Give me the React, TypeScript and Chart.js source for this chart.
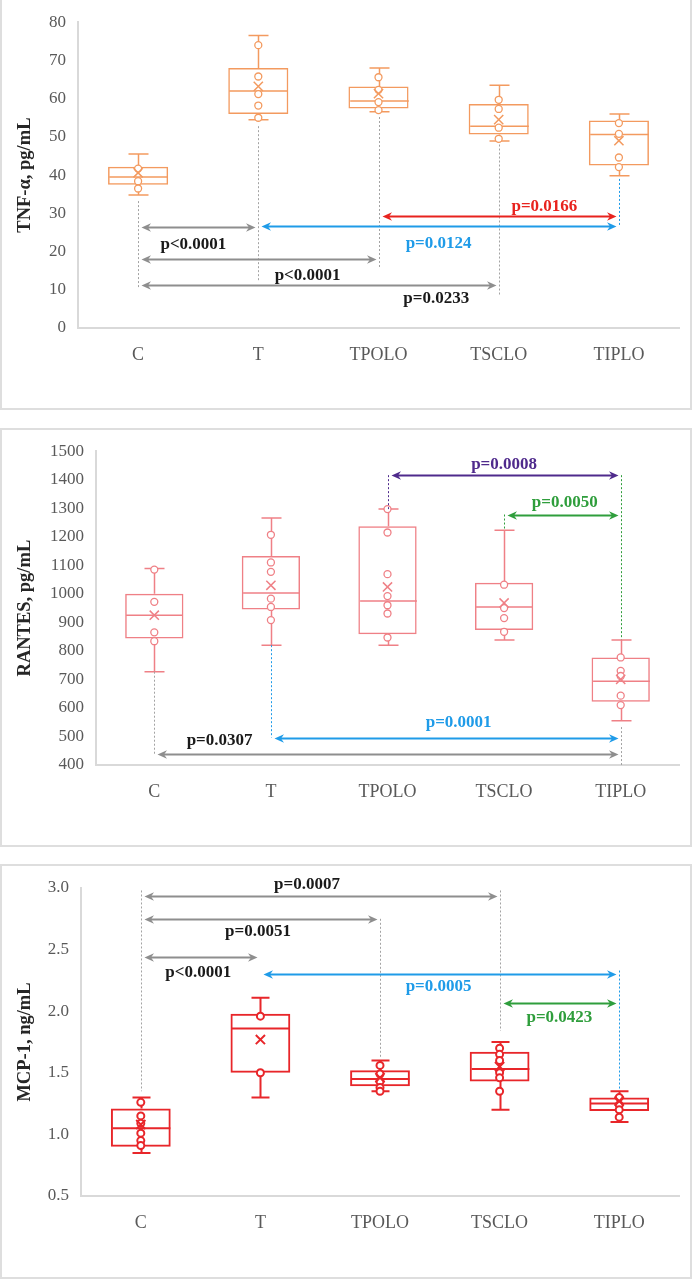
import React, { useEffect, useRef } from 'react';
import { Chart, registerables } from 'chart.js';

Chart.register(...registerables);

const categories = ['C', 'T', 'TPOLO', 'TSCLO', 'TIPLO'];

// ---- TNF-α, pg/mL ----
const tnfMin = [34.8, 54.5, 56.6, 48.9, 39.8];
const tnfQ1 = [37.5, 56.0, 57.4, 50.6, 42.5];
const tnfMedian = [39.5, 62.0, 59.4, 52.8, 50.6];
const tnfQ3 = [42.2, 68.0, 63.2, 58.6, 54.3];
const tnfMax = [45.5, 76.5, 68.0, 63.5, 56.0];
const tnfMean = [40.6, 63.2, 61.3, 54.5, 49.0];
const tnfPoints = [
  [41.7, 38.4, 36.5],
  [74.0, 65.8, 61.2, 58.2, 55.0],
  [65.6, 62.3, 59.1, 57.0],
  [59.7, 57.3, 52.4, 49.5],
  [53.6, 50.8, 44.6, 42.1],
];
const tnfTicks = { min: 0, max: 80, step: 10, decimals: 0 };

// ---- RANTES, pg/mL ----
const rantesMin = [727, 820, 820, 838, 555];
const rantesQ1 = [843, 945, 858, 873, 622];
const rantesMedian = [925, 1003, 975, 954, 694];
const rantesQ3 = [1000, 1133, 1237, 1039, 777];
const rantesMax = [1089, 1266, 1297, 1223, 838];
const rantesMean = [925, 1030, 1024, 968, 700];
const rantesPoints = [
  [1085, 972, 865, 834],
  [1207, 1110, 1077, 983, 954, 908],
  [1297, 1215, 1069, 992, 960, 931, 847],
  [1032, 950, 915, 867],
  [777, 730, 712, 643, 610],
];
const rantesTicks = { min: 400, max: 1500, step: 100, decimals: 0 };

// ---- MCP-1, ng/mL ----
const mcpMin = [0.85, 1.30, 1.35, 1.20, 1.10];
const mcpQ1 = [0.90, 1.50, 1.39, 1.43, 1.19];
const mcpMedian = [1.05, 1.86, 1.45, 1.53, 1.25];
const mcpQ3 = [1.21, 1.98, 1.52, 1.67, 1.30];
const mcpMax = [1.30, 2.11, 1.60, 1.75, 1.35];
const mcpMean = [1.08, 1.77, 1.46, 1.55, 1.27];
const mcpPoints = [
  [1.26, 1.15, 1.09, 1.01, 0.95, 0.91],
  [1.96, 1.50],
  [1.56, 1.49, 1.43, 1.38, 1.35],
  [1.70, 1.65, 1.60, 1.50, 1.46, 1.35],
  [1.30, 1.24, 1.20, 1.14],
];
const mcpTicks = { min: 0.5, max: 3.0, step: 0.5, decimals: 1 };

// ---- colours ----
const GRAY = '#8e8e8e';
const GUIDE_GRAY = '#a3a3a3';
const BLACK = '#1a1a1a';
const BLUE = '#1f9be8';
const RED = '#e8231e';
const PURPLE = '#4f2a8c';
const GREEN = '#2f9e3c';

type Guide = { cat: string; from: number; to: number; color: string };
type Cmp = {
  from: string; to: string; y: number; text: string;
  color: string; textColor: string; tx: number; ty: number;
};

// ---- significance annotations ----
const tnfGuides: Guide[] = [
  { cat: 'C', from: 33.2, to: 10.5, color: GUIDE_GRAY },
  { cat: 'T', from: 52.8, to: 12.5, color: GUIDE_GRAY },
  { cat: 'TPOLO', from: 55.2, to: 15.5, color: GUIDE_GRAY },
  { cat: 'TSCLO', from: 48.0, to: 8.4, color: GUIDE_GRAY },
  { cat: 'TIPLO', from: 39.0, to: 26.4, color: BLUE },
];
const tnfComparisons: Cmp[] = [
  { from: 'C', to: 'T', y: 26.4, text: 'p<0.0001', color: GRAY, textColor: BLACK, tx: 0.46, ty: 21.7 },
  { from: 'C', to: 'TPOLO', y: 18.0, text: 'p<0.0001', color: GRAY, textColor: BLACK, tx: 1.41, ty: 13.8 },
  { from: 'C', to: 'TSCLO', y: 11.2, text: 'p=0.0233', color: GRAY, textColor: BLACK, tx: 2.48, ty: 7.7 },
  { from: 'T', to: 'TIPLO', y: 26.6, text: 'p=0.0124', color: BLUE, textColor: BLUE, tx: 2.5, ty: 22.2 },
  { from: 'TPOLO', to: 'TIPLO', y: 29.3, text: 'p=0.0166', color: RED, textColor: RED, tx: 3.38, ty: 31.7 },
];

const rantesGuides: Guide[] = [
  { cat: 'TPOLO', from: 1416, to: 1297, color: PURPLE },
  { cat: 'TSCLO', from: 1278, to: 1223, color: GREEN },
  { cat: 'TIPLO', from: 1416, to: 840, color: GREEN },
  { cat: 'T', from: 820, to: 496, color: BLUE },
  { cat: 'C', from: 727, to: 438, color: GUIDE_GRAY },
  { cat: 'TIPLO', from: 533, to: 400, color: GUIDE_GRAY },
];
const rantesComparisons: Cmp[] = [
  { from: 'TPOLO', to: 'TIPLO', y: 1416, text: 'p=0.0008', color: PURPLE, textColor: PURPLE, tx: 3.0, ty: 1454 },
  { from: 'TSCLO', to: 'TIPLO', y: 1278, text: 'p=0.0050', color: GREEN, textColor: GREEN, tx: 3.52, ty: 1321 },
  { from: 'T', to: 'TIPLO', y: 496, text: 'p=0.0001', color: BLUE, textColor: BLUE, tx: 2.61, ty: 548 },
  { from: 'C', to: 'TIPLO', y: 438, text: 'p=0.0307', color: GRAY, textColor: BLACK, tx: 0.56, ty: 487 },
];

const mcpGuides: Guide[] = [
  { cat: 'C', from: 2.98, to: 1.35, color: GUIDE_GRAY },
  { cat: 'TPOLO', from: 2.75, to: 1.63, color: GUIDE_GRAY },
  { cat: 'TSCLO', from: 2.98, to: 1.84, color: GUIDE_GRAY },
  { cat: 'TIPLO', from: 2.33, to: 1.37, color: BLUE },
];
const mcpComparisons: Cmp[] = [
  { from: 'C', to: 'TSCLO', y: 2.935, text: 'p=0.0007', color: GRAY, textColor: BLACK, tx: 1.39, ty: 3.03 },
  { from: 'C', to: 'TPOLO', y: 2.75, text: 'p=0.0051', color: GRAY, textColor: BLACK, tx: 0.98, ty: 2.65 },
  { from: 'C', to: 'T', y: 2.44, text: 'p<0.0001', color: GRAY, textColor: BLACK, tx: 0.48, ty: 2.31 },
  { from: 'T', to: 'TIPLO', y: 2.30, text: 'p=0.0005', color: BLUE, textColor: BLUE, tx: 2.49, ty: 2.20 },
  { from: 'TSCLO', to: 'TIPLO', y: 2.07, text: 'p=0.0423', color: GREEN, textColor: GREEN, tx: 3.5, ty: 1.95 },
];

const SERIF = '"Liberation Serif", "Times New Roman", serif';

type PanelProps = {
  top: number; height: number; plotTop: number; plotLeft: number; plotBottom: number;
  title: string; color: string; lineWidth: number; cap: number; pointWidth: number;
  min: number[]; q1: number[]; median: number[]; q3: number[]; max: number[];
  mean: number[]; points: number[][];
  ticks: { min: number; max: number; step: number; decimals: number };
  guides: Guide[]; comparisons: Cmp[];
};

function arrowHead(ctx: CanvasRenderingContext2D, x: number, y: number, dir: number, color: string) {
  const L = 9.5, W = 4.2, N = 6.5;
  ctx.beginPath();
  ctx.moveTo(x, y);
  ctx.lineTo(x - dir * L, y - W);
  ctx.lineTo(x - dir * N, y);
  ctx.lineTo(x - dir * L, y + W);
  ctx.closePath();
  ctx.fillStyle = color;
  ctx.fill();
}

function BoxPanel(p: PanelProps) {
  const ref = useRef<HTMLCanvasElement | null>(null);
  useEffect(() => {
    const canvas = ref.current;
    if (!canvas) return;
    const W = 694;
    const xHeight = p.top + p.height - p.plotBottom;

    const boxPlugin = {
      id: 'boxWhiskers',
      afterDatasetDraw(chart: any, args: any) {
        if (args.index !== 0) return;
        const ctx = chart.ctx as CanvasRenderingContext2D;
        const ys = chart.scales.y;
        const meta = chart.getDatasetMeta(0);
        ctx.save();
        ctx.strokeStyle = p.color;
        ctx.lineWidth = p.lineWidth;
        meta.data.forEach((bar: any, i: number) => {
          const x = Math.round(bar.x) + 0.5;
          const hw = bar.width / 2;
          const yMed = ys.getPixelForValue(p.median[i]);
          const yQ1 = ys.getPixelForValue(p.q1[i]);
          const yQ3 = ys.getPixelForValue(p.q3[i]);
          const yMax = ys.getPixelForValue(p.max[i]);
          const yMin = ys.getPixelForValue(p.min[i]);
          ctx.beginPath();
          ctx.moveTo(x - hw + p.lineWidth / 2, yMed);
          ctx.lineTo(x + hw - p.lineWidth / 2, yMed);
          ctx.moveTo(x, yQ3);
          ctx.lineTo(x, yMax);
          ctx.moveTo(x - p.cap, yMax);
          ctx.lineTo(x + p.cap, yMax);
          ctx.moveTo(x, yQ1);
          ctx.lineTo(x, yMin);
          ctx.moveTo(x - p.cap, yMin);
          ctx.lineTo(x + p.cap, yMin);
          ctx.stroke();
        });
        ctx.restore();
      },
    };

    const annotPlugin = {
      id: 'significance',
      afterDraw(chart: any) {
        const ctx = chart.ctx as CanvasRenderingContext2D;
        const xs = chart.scales.x;
        const ys = chart.scales.y;
        const cx = (c: string) => Math.round(xs.getPixelForValue(categories.indexOf(c))) + 0.5;
        ctx.save();
        ctx.lineWidth = 1;
        ctx.setLineDash([2, 2]);
        p.guides.forEach((g) => {
          const x = cx(g.cat);
          ctx.strokeStyle = g.color;
          ctx.beginPath();
          ctx.moveTo(x, ys.getPixelForValue(g.from));
          ctx.lineTo(x, ys.getPixelForValue(g.to));
          ctx.stroke();
        });
        ctx.setLineDash([]);
        p.comparisons.forEach((c) => {
          const x1 = cx(c.from) + 3;
          const x2 = cx(c.to) - 3;
          const y = Math.round(ys.getPixelForValue(c.y)) + 0.5;
          ctx.strokeStyle = c.color;
          ctx.lineWidth = 1.8;
          ctx.beginPath();
          ctx.moveTo(x1 + 6, y);
          ctx.lineTo(x2 - 6, y);
          ctx.stroke();
          arrowHead(ctx, x1, y, -1, c.color);
          arrowHead(ctx, x2, y, 1, c.color);
          ctx.fillStyle = c.textColor;
          ctx.font = `bold 17px ${SERIF}`;
          ctx.textAlign = 'center';
          ctx.textBaseline = 'middle';
          ctx.fillText(c.text, xs.getPixelForValue(c.tx), ys.getPixelForValue(c.ty));
        });
        ctx.restore();
      },
    };

    const chart = new Chart(canvas, {
      type: 'bar',
      data: {
        labels: categories,
        datasets: [
          {
            type: 'bar',
            data: categories.map((_, i) => [p.q1[i], p.q3[i]]) as any,
            backgroundColor: 'rgba(255,255,255,0)',
            borderColor: p.color,
            borderWidth: p.lineWidth,
            borderSkipped: false,
            barPercentage: 0.5,
            categoryPercentage: 1,
            order: 3,
          } as any,
          {
            type: 'line',
            data: categories.flatMap((c, i) => p.points[i].map((v) => ({ x: c, y: v }))) as any,
            showLine: false,
            pointStyle: 'circle',
            pointRadius: 3.5,
            pointBorderWidth: p.pointWidth,
            pointBorderColor: p.color,
            pointBackgroundColor: '#ffffff',
            order: 2,
          } as any,
          {
            type: 'line',
            data: categories.map((c, i) => ({ x: c, y: p.mean[i] })) as any,
            showLine: false,
            pointStyle: 'crossRot',
            pointRadius: 6.5,
            pointBorderWidth: p.lineWidth,
            pointBorderColor: p.color,
            order: 1,
          } as any,
        ],
      },
      options: {
        responsive: false,
        devicePixelRatio: 1,
        animation: false,
        events: [],
        layout: { padding: { left: 0, right: W - 679, top: p.plotTop - p.top, bottom: 0 } },
        plugins: { legend: { display: false }, tooltip: { enabled: false } },
        scales: {
          x: {
            type: 'category',
            offset: true,
            grid: { display: false, drawTicks: false },
            border: { display: true, color: '#d9d9d9', width: 2 },
            ticks: { font: { family: SERIF, size: 18 }, color: '#595959', padding: 16 },
            afterFit: (s: any) => { s.height = xHeight; },
          },
          y: {
            type: 'linear',
            min: p.ticks.min,
            max: p.ticks.max,
            grid: { display: false, drawTicks: false },
            border: { display: true, color: '#d9d9d9', width: 2 },
            ticks: {
              stepSize: p.ticks.step,
              font: { family: SERIF, size: 17 },
              color: '#595959',
              padding: 12,
              callback: (v: any) => Number(v).toFixed(p.ticks.decimals),
            },
            title: {
              display: true,
              text: p.title,
              color: '#262626',
              font: { family: SERIF, size: 18.5, weight: 'bold' },
              padding: { top: 14, bottom: 0 },
            },
            afterFit: (s: any) => { s.width = p.plotLeft; },
          },
        },
      } as any,
      plugins: [boxPlugin, annotPlugin],
    });
    return () => chart.destroy();
  }, []);
  return (
    <canvas
      ref={ref}
      width={694}
      height={p.height}
      style={{ position: 'absolute', left: 0, top: p.top, width: 694, height: p.height }}
    />
  );
}

const borderStyle = (top: number, height: number): React.CSSProperties => ({
  position: 'absolute', left: 0, top, width: 692, height,
  border: '2px solid #dedede', boxSizing: 'border-box',
});

export default function App() {
  return (
    <div style={{ position: 'absolute', left: 0, top: 0, width: 694, height: 1281, overflow: 'hidden', background: '#ffffff' }}>
      <div style={borderStyle(-2, 412)} />
      <div style={borderStyle(428, 419)} />
      <div style={borderStyle(864, 415)} />
      <BoxPanel
        top={0} height={410} plotTop={15} plotLeft={78} plotBottom={328}
        title="TNF-α, pg/mL" color="#f39a5f" lineWidth={1.5} cap={10} pointWidth={1.3}
        min={tnfMin} q1={tnfQ1} median={tnfMedian} q3={tnfQ3} max={tnfMax}
        mean={tnfMean} points={tnfPoints} ticks={tnfTicks}
        guides={tnfGuides} comparisons={tnfComparisons}
      />
      <BoxPanel
        top={429} height={417} plotTop={451} plotLeft={96} plotBottom={765}
        title="RANTES, pg/mL" color="#ef8086" lineWidth={1.5} cap={10} pointWidth={1.3}
        min={rantesMin} q1={rantesQ1} median={rantesMedian} q3={rantesQ3} max={rantesMax}
        mean={rantesMean} points={rantesPoints} ticks={rantesTicks}
        guides={rantesGuides} comparisons={rantesComparisons}
      />
      <BoxPanel
        top={865} height={412} plotTop={888} plotLeft={81} plotBottom={1196}
        title="MCP-1, ng/mL" color="#e8262a" lineWidth={2} cap={9} pointWidth={2}
        min={mcpMin} q1={mcpQ1} median={mcpMedian} q3={mcpQ3} max={mcpMax}
        mean={mcpMean} points={mcpPoints} ticks={mcpTicks}
        guides={mcpGuides} comparisons={mcpComparisons}
      />
    </div>
  );
}
